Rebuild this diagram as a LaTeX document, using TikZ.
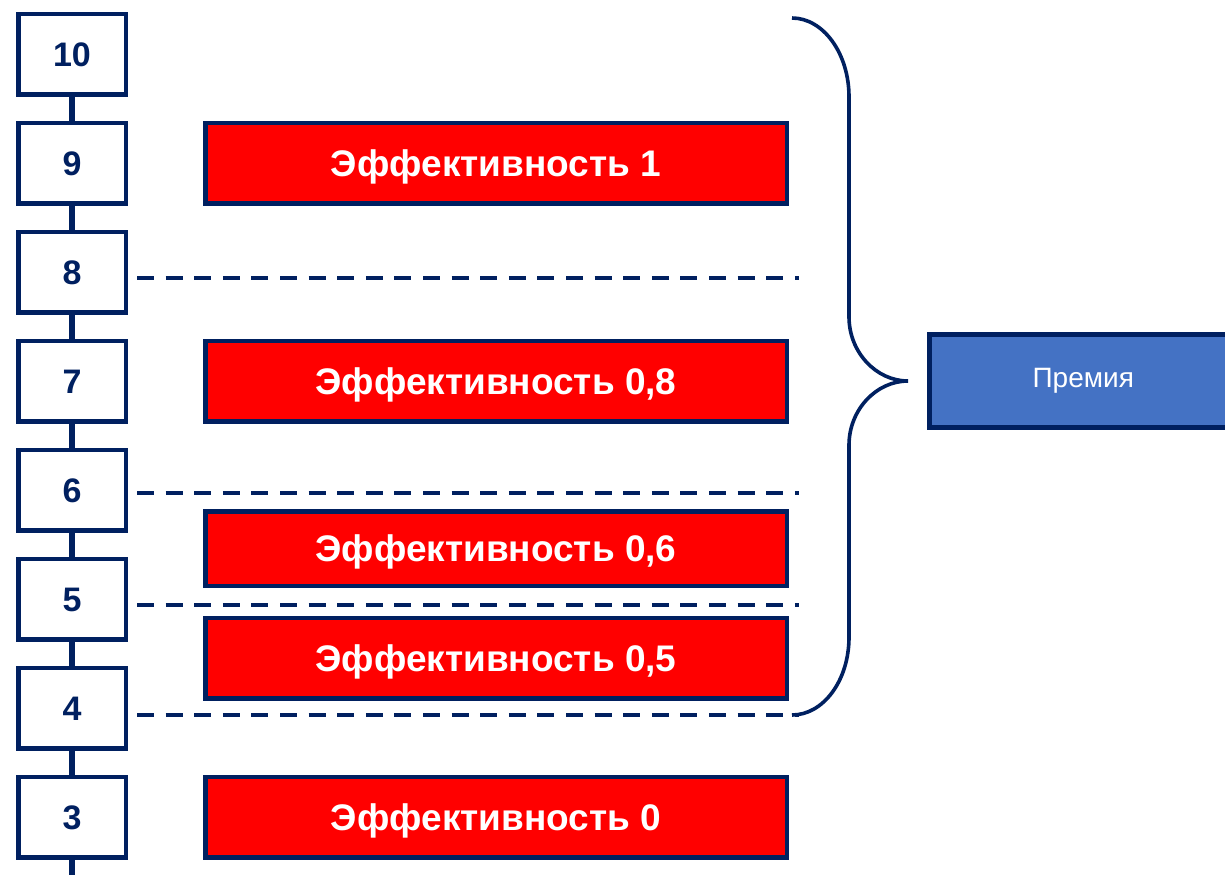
\documentclass[tikz,border=0pt]{standalone}
\usepackage{fontspec}
\setmainfont{Liberation Sans}
\usepackage{tikz}
\usetikzlibrary{positioning}

\definecolor{navy}{HTML}{002060}
\definecolor{effred}{HTML}{FF0000}
\definecolor{prizeblue}{HTML}{4472C4}

\begin{document}
\begin{tikzpicture}[
  numbox/.style={draw=navy, line width=2.25pt, fill=white, minimum width=53.75pt,
                 minimum height=40.25pt, text=navy, text height=12.2pt, text depth=0pt,
                 font=\fontsize{17}{20}\selectfont\bfseries},
  effbox/.style={draw=navy, line width=2.25pt, fill=effred, minimum width=290.75pt,
                 minimum height=40.25pt, text=white, text height=13.2pt, text depth=0pt,
                 font=\fontsize{18.5}{22}\selectfont\bfseries},
  prizebox/.style={draw=navy, line width=2.25pt, fill=prizeblue, minimum width=154pt,
                   minimum height=46.5pt, text=white, font=\fontsize{14}{17}\selectfont},
  link/.style={navy, line width=3pt},
  level/.style={navy, line width=1.6pt, dash pattern=on 8.5pt off 5.8pt},
  brace/.style={navy, line width=1.8pt},
]
  \useasboundingbox (0,0) rectangle (612.5pt,-437pt);

  % scale of grades
  \node[numbox] (n10) at (36pt,-27pt) {10};
  \node[numbox, below=12pt of n10] (n9) {9};
  \node[numbox, below=12pt of n9]  (n8) {8};
  \node[numbox, below=12pt of n8]  (n7) {7};
  \node[numbox, below=12pt of n7]  (n6) {6};
  \node[numbox, below=12pt of n6]  (n5) {5};
  \node[numbox, below=12pt of n5]  (n4) {4};
  \node[numbox, below=12pt of n4]  (n3) {3};
  \coordinate (foot) at ([yshift=-40pt]n3.south);

  \draw[link] (n10) -- (n9);
  \draw[link] (n9)  -- (n8);
  \draw[link] (n8)  -- (n7);
  \draw[link] (n7)  -- (n6);
  \draw[link] (n6)  -- (n5);
  \draw[link] (n5)  -- (n4);
  \draw[link] (n4)  -- (n3);
  \draw[link] (n3)  -- (foot);

  % efficiency bands
  \coordinate (col) at (248pt,0);
  \node[effbox] (e1)  at (n9 -| col) {Эффективность 1};
  \node[effbox] (e08) at (n7 -| col) {Эффективность 0,8};
  \node[effbox, minimum height=37.25pt] (e06) at (248pt,-274.25pt) {Эффективность 0,6};
  \node[effbox] (e05) at (248pt,-329pt) {Эффективность 0,5};
  \node[effbox] (e0)  at (n3 -| col) {Эффективность 0};

  % band limits
  \coordinate (rim) at (395pt,0);
  \draw[level] ([xshift=4.5pt,yshift=-3pt]n8.east) -- ([xshift=4.5pt,yshift=-3pt]n8.east -| rim);
  \draw[level] ([xshift=4.5pt,yshift=-1.5pt]n6.east) -- ([xshift=4.5pt,yshift=-1.5pt]n6.east -| rim);
  \draw[level] ([xshift=4.5pt,yshift=-3pt]n5.east) -- ([xshift=4.5pt,yshift=-3pt]n5.east -| rim);
  \draw[level] ([xshift=4.5pt,yshift=-3.5pt]n4.east) -- ([xshift=4.5pt,yshift=-3.5pt]n4.east -| rim);

  % brace over grades 4..10
  \coordinate (top)    at (396pt,-9pt);
  \coordinate (tip)    at (454pt,-190.5pt);
  \coordinate (bottom) at (396pt,-357.5pt);
  \draw[brace] (top) .. controls +(15.5pt,0) and +(0,22pt) .. (424.5pt,-48.5pt)
    -- (424.5pt,-158.5pt) .. controls +(0,-17.5pt) and +(-16pt,0) .. (tip)
    .. controls +(-16pt,0) and +(0,17.5pt) .. (424.5pt,-222.5pt)
    -- (424.5pt,-318.5pt) .. controls +(0,-22pt) and +(15.5pt,0) .. (bottom);

  \node[prizebox, right=9.5pt of tip] (prize) {Премия};
\end{tikzpicture}
\end{document}
